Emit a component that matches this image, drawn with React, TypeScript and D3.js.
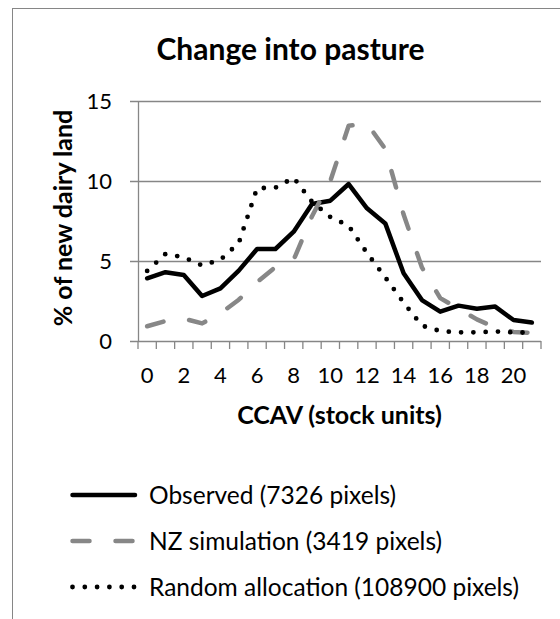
import React from "react";
import * as d3 from "d3";

const categories = [0, 1, 2, 3, 4, 5, 6, 7, 8, 9, 10, 11, 12, 13, 14, 15, 16, 17, 18, 19, 20, 21];
const tickLabels = ["0", "2", "4", "6", "8", "10", "12", "14", "16", "18", "20"];
const yTicks = [0, 5, 10, 15];

const observed = [3.92, 4.3, 4.12, 2.81, 3.29, 4.4, 5.75, 5.75, 6.83, 8.56, 8.77, 9.81, 8.29, 7.35, 4.23, 2.56, 1.83, 2.21, 2.02, 2.15, 1.31, 1.15];
const nzSimulation = [0.92, 1.25, 1.4, 1.1, 1.73, 2.58, 3.68, 4.62, 5.08, 7.8, 10.0, 13.45, 13.6, 12.0, 7.9, 4.6, 2.68, 2.02, 1.35, 0.85, 0.57, 0.5];
const randomAllocation = [4.38, 5.44, 5.23, 4.72, 5.08, 6.12, 9.55, 9.58, 10.2, 8.7, 7.75, 7.2, 5.5, 3.98, 2.4, 0.96, 0.62, 0.54, 0.54, 0.6, 0.54, 0.52];

const seriesNames = ["Observed (7326 pixels)", "NZ simulation (3419 pixels)", "Random allocation (108900 pixels)"];

const W = 560;
const H = 619;
const FONT = "Lato, 'Open Sans', sans-serif";
const GRID = "#868686";

export default function App() {
  const x = d3.scaleBand<number>().domain(categories).range([138, 541]).padding(0);
  const y = d3.scaleLinear().domain([0, 15]).range([341, 101]);
  const cx = (c: number) => (x(c) as number) + x.bandwidth() / 2;

  const line = d3
    .line<[number, number]>()
    .x((d) => cx(d[0]))
    .y((d) => y(d[1]));

  const mk = (vals: number[]) => line(categories.map((c, i) => [c, vals[i]] as [number, number])) as string;

  const styles = [
    { stroke: "#000000", width: 4.5, dash: undefined as string | undefined, cap: "round" as const },
    { stroke: "#878787", width: 4.5, dash: "17 26", cap: "round" as const },
    { stroke: "#000000", width: 4.8, dash: "0 12.3", cap: "round" as const },
  ];
  const series = [observed, nzSimulation, randomAllocation];

  const boundaries = d3.range(categories.length + 1).map((i) => 138 + i * x.bandwidth());

  const legendY = [495, 541, 587];

  return (
    <div style={{ position: "absolute", left: 0, top: 0 }}>
      <svg width={W} height={H} style={{ display: "block", background: "#fff" }}>
        <rect x={12.5} y={8.5} width={700} height={800} fill="#fff" stroke={GRID} strokeWidth={1} />
        <text x={290.5} y={60} textAnchor="middle" fontFamily={FONT} fontWeight={700} fontSize={30} fill="#000">
          Change into pasture
        </text>

        {yTicks.map((t) => (
          <g key={t}>
            <line x1={130} x2={541} y1={Math.round(y(t)) + 0.5} y2={Math.round(y(t)) + 0.5} stroke={GRID} strokeWidth={1.3} />
            <text x={112} y={y(t) + 8} textAnchor="end" fontFamily={FONT} fontSize={22} fill="#000">
              {t}
            </text>
          </g>
        ))}
        <line x1={138.5} x2={138.5} y1={101} y2={341} stroke={GRID} strokeWidth={1.3} />
        {boundaries.map((bx, i) => (
          <line key={i} x1={bx} x2={bx} y1={341} y2={349} stroke={GRID} strokeWidth={1.3} />
        ))}
        {tickLabels.map((l) => (
          <text key={l} x={cx(+l)} y={383} textAnchor="middle" fontFamily={FONT} fontSize={22} fill="#000">
            {l}
          </text>
        ))}
        <text x={339.5} y={424} textAnchor="middle" fontFamily={FONT} fontWeight={700} fontSize={25} fill="#000">
          CCAV (stock units)
        </text>
        <text
          transform={`translate(72, 218) rotate(-90)`}
          textAnchor="middle"
          fontFamily={FONT}
          fontWeight={700}
          fontSize={25}
          fill="#000"
        >
          % of new dairy land
        </text>

        {series.map((s, i) => (
          <path
            key={i}
            d={mk(s)}
            fill="none"
            stroke={styles[i].stroke}
            strokeWidth={styles[i].width}
            strokeDasharray={styles[i].dash}
            strokeLinecap={styles[i].cap}
            strokeLinejoin="round"
          />
        ))}

        {seriesNames.map((n, i) => (
          <g key={n}>
            <line
              x1={72.5}
              x2={135}
              y1={legendY[i]}
              y2={legendY[i]}
              stroke={styles[i].stroke}
              strokeWidth={styles[i].width}
              strokeDasharray={styles[i].dash}
              strokeLinecap={styles[i].cap}
            />
            <text x={149} y={legendY[i] + 8.5} fontFamily={FONT} fontSize={24.5} fill="#000">
              {n}
            </text>
          </g>
        ))}
      </svg>
    </div>
  );
}
